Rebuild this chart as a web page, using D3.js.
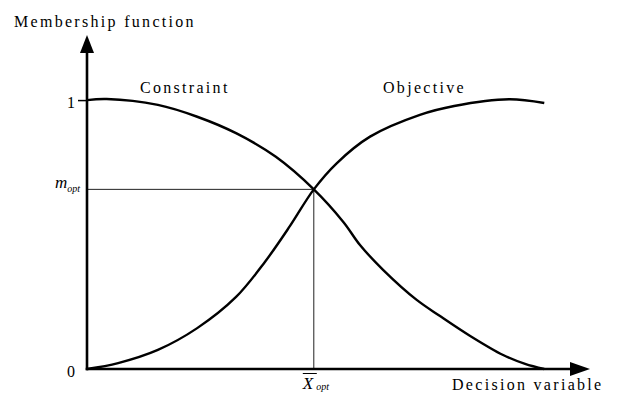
<!DOCTYPE html>
<html>
<head>
<meta charset="utf-8">
<script src="https://cdn.jsdelivr.net/npm/d3@7"></script>
<style>
  body { margin: 0; background: #fff; }
</style>
</head>
<body>
<div id="chart"></div>
<script>
// curves (decision variable 0..10, membership 0..1)
const constraintX = [0, 0.43, 1.55, 2.41, 3.27, 4.13, 4.96, 5.61, 5.97, 6.48, 7.21, 7.72, 8.38, 9.10, 9.58, 10];
const constraintY = [1.0, 1.004, 0.982, 0.938, 0.876, 0.789, 0.668, 0.546, 0.461, 0.368, 0.257, 0.197, 0.123, 0.052, 0.019, 0];
const objectiveX = [0, 0.68, 1.55, 2.41, 3.26, 3.89, 4.44, 4.96, 5.46, 6.19, 7.28, 8.03, 9.23, 10];
const objectiveY = [0, 0.022, 0.071, 0.152, 0.268, 0.398, 0.532, 0.668, 0.765, 0.864, 0.945, 0.978, 1.003, 0.989];
const yTicks = [0, 1];
const xOpt = 4.96;
const mOpt = 0.668;

const width = 618;
const height = 394;
const serif = "'Liberation Serif', 'Times New Roman', Times, 'DejaVu Serif', serif";

const svg = d3.select('#chart')
  .append('svg')
  .attr('width', width)
  .attr('height', height);

const xScale = d3.scaleLinear()
  .domain([0, 11])
  .range([87, 590]);

const yScale = d3.scaleLinear()
  .domain([0, 1.242])
  .range([369, 35]);

const x0 = xScale(0), y0 = yScale(0);

// y ticks (0 and 1)
const yAxis = svg.append('g')
  .attr('transform', `translate(${x0},0)`)
  .call(d3.axisLeft(yScale).tickValues(yTicks).tickSize(9).tickPadding(3).tickFormat(d3.format('d')));
yAxis.select('.domain').remove();
yAxis.attr('font-family', serif);
yAxis.selectAll('.tick line').attr('stroke', '#000').attr('stroke-width', 1.5);
yAxis.selectAll('.tick text')
  .attr('font-size', 16)
  .attr('dy', '0.45em');
yAxis.selectAll('.tick').filter(d => d === 0).select('line').remove();

// optimum guide lines
svg.append('line')
  .attr('x1', x0).attr('x2', xScale(xOpt))
  .attr('y1', yScale(mOpt)).attr('y2', yScale(mOpt))
  .attr('stroke', '#222').attr('stroke-width', 1);
svg.append('line')
  .attr('x1', xScale(xOpt)).attr('x2', xScale(xOpt))
  .attr('y1', yScale(mOpt)).attr('y2', y0)
  .attr('stroke', '#222').attr('stroke-width', 1);

// curves
const line = d3.line()
  .x(d => xScale(d[0]))
  .y(d => yScale(d[1]))
  .curve(d3.curveCatmullRom.alpha(0.5));

svg.append('path')
  .datum(d3.zip(constraintX, constraintY))
  .attr('d', line)
  .attr('fill', 'none')
  .attr('stroke', '#000')
  .attr('stroke-width', 2.4);

svg.append('path')
  .datum(d3.zip(objectiveX, objectiveY))
  .attr('d', line)
  .attr('fill', 'none')
  .attr('stroke', '#000')
  .attr('stroke-width', 2.4);

// axes with arrow heads
const yTop = yScale.range()[1];
const xEnd = xScale.range()[1];
svg.append('line')
  .attr('x1', x0).attr('x2', x0)
  .attr('y1', y0 + 1.2).attr('y2', yTop + 17)
  .attr('stroke', '#000').attr('stroke-width', 2.6);
svg.append('path')
  .attr('d', `M${x0},${yTop} L${x0 - 7},${yTop + 18} L${x0 + 7},${yTop + 18} Z`)
  .attr('fill', '#000');
svg.append('line')
  .attr('x1', x0 - 1.3).attr('x2', xEnd - 19)
  .attr('y1', y0).attr('y2', y0)
  .attr('stroke', '#000').attr('stroke-width', 2.6);
svg.append('path')
  .attr('d', `M${xEnd},${y0} L${xEnd - 20},${y0 - 7} L${xEnd - 20},${y0 + 7} Z`)
  .attr('fill', '#000');

// labels
const label = (x, y, t) => svg.append('text')
  .attr('x', x).attr('y', y)
  .attr('font-family', serif)
  .attr('font-size', 16)
  .attr('letter-spacing', 2.3)
  .text(t);

label(14, 27, 'Membership function');
label(140, 93, 'Constraint');
label(383, 93, 'Objective');
label(452, 390, 'Decision variable');

// m_opt
const mLab = svg.append('text')
  .attr('x', 55).attr('y', yScale(mOpt) - 1)
  .attr('font-family', serif)
  .attr('font-size', 17)
  .attr('font-style', 'italic');
mLab.append('tspan').text('m');
mLab.append('tspan').attr('font-size', 10).attr('dy', 4).text('opt');

// X bar opt
const xLab = svg.append('text')
  .attr('x', xScale(xOpt) - 11).attr('y', 389)
  .attr('font-family', serif)
  .attr('font-size', 17)
  .attr('font-style', 'italic');
xLab.append('tspan').text('X');
xLab.append('tspan').attr('font-size', 10).attr('dx', 3).attr('dy', 1).text('opt');
svg.append('line')
  .attr('x1', xScale(xOpt) - 11).attr('x2', xScale(xOpt) + 3)
  .attr('y1', 373.5).attr('y2', 373.5)
  .attr('stroke', '#000').attr('stroke-width', 1);
</script>
</body>
</html>
